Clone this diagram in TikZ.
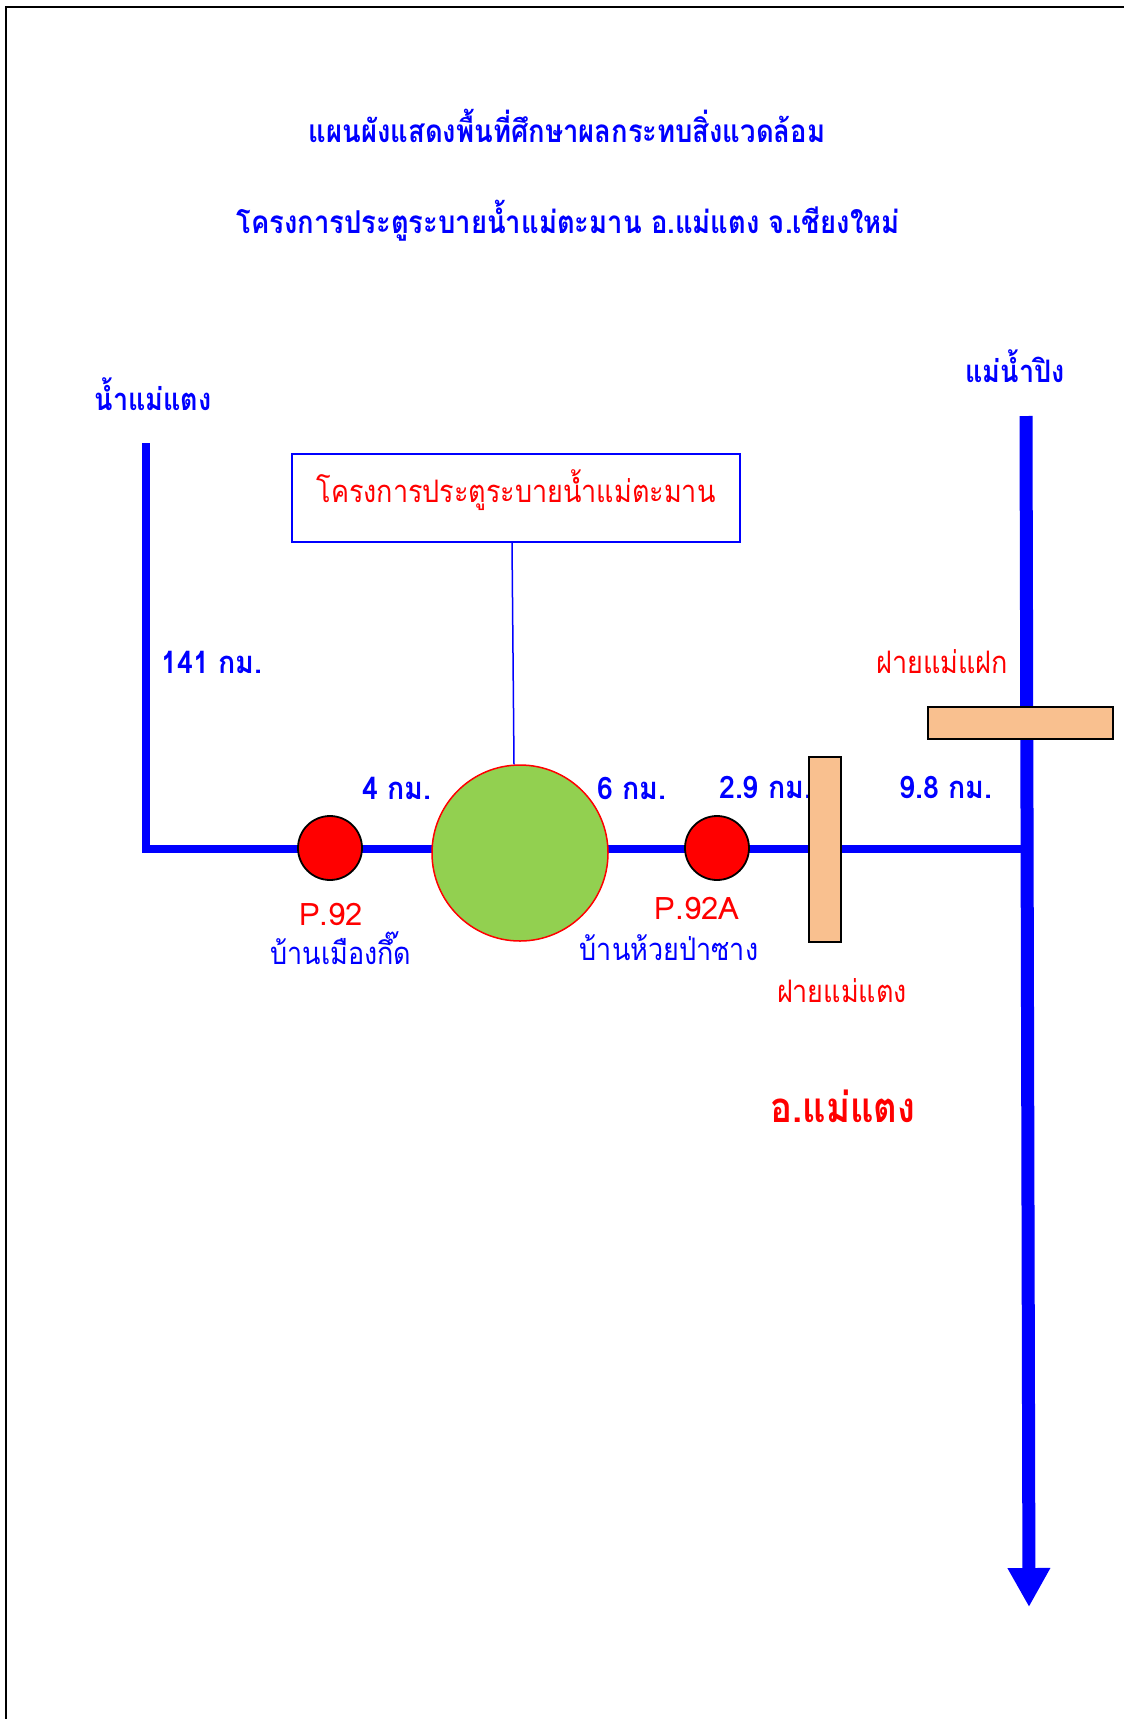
\documentclass[tikz,border=0pt]{standalone}
\usepackage{fontspec}
\newfontfamily\thaifont[Script=Thai, FakeStretch=0.87]{Loma}
\newfontfamily\numfont[Script=Thai, FakeStretch=0.92]{Loma}
\newfontfamily\latinfont[Script=Thai]{Loma}
\usetikzlibrary{arrows.meta,backgrounds}
\definecolor{rvblue}{HTML}{0000FF}
\definecolor{rvred}{HTML}{FF0000}
\definecolor{damgreen}{HTML}{92D050}
\definecolor{weirfill}{HTML}{F9C08F}
\tikzset{
  lbl/.style={font=\thaifont\bfseries\fontsize{31}{36}\selectfont, text=rvblue, inner sep=0pt, anchor=base},
  numlbl/.style={font=\numfont\bfseries\fontsize{31}{36}\selectfont, text=rvblue, inner sep=0pt, anchor=base},
  vlbl/.style={font=\thaifont\fontsize{31}{36}\selectfont, text=rvblue, inner sep=0pt, anchor=base},
  rlbl/.style={font=\thaifont\fontsize{31}{36}\selectfont, text=rvred, inner sep=0pt, anchor=base},
  plbl/.style={font=\latinfont\fontsize{31}{36}\selectfont, text=rvred, inner sep=0pt, anchor=base},
  titletxt/.style={font=\thaifont\bfseries\fontsize{31.5}{36}\selectfont, text=rvblue, inner sep=0pt, anchor=base},
  river/.style={draw=rvblue, line width=8pt},
  mainriver/.style={draw=rvblue, line width=13pt},
  station/.style={circle, draw=black, fill=rvred, line width=1.8pt, minimum size=64pt, inner sep=0pt},
  weir/.style={rectangle, draw=black, fill=weirfill, line width=2pt, inner sep=0pt},
}
\begin{document}
\begin{tikzpicture}[x=1pt,y=-1pt]
\useasboundingbox (0,0) rectangle (1124,1719);
% frame
\coordinate (fbl) at (6,1719);
\coordinate (ftl) at (6,7);
\coordinate (ftr) at (1124,7);
\draw[line width=2.2pt] (fbl) -- (ftl) -- (ftr);
% titles
\node[titletxt] (t1) at (567,142) {แผนผังแสดงพื้นที่ศึกษาผลกระทบสิ่งแวดล้อม};
\node[titletxt] (t2) at (568,233) {โครงการประตูระบายน้ำแม่ตะมาน อ.แม่แตง จ.เชียงใหม่};
% river labels
\node[lbl] (lmt) at (153,410) {น้ำแม่แตง};
\node[lbl] (lping) at (1015,382) {แม่น้ำปิง};
% rivers
\coordinate (ltop) at (146,443);
\coordinate (junc) at (1026,849);
\coordinate (ptop) at (1026,416);
\coordinate (pend) at (1029,1607);
\draw[river] (ltop) |- (junc);
\draw[mainriver, -{Triangle[width=40pt,length=39pt]}] (ptop) -- (pend);
% project box
\node[draw=rvblue, line width=1.5pt, minimum width=448pt, minimum height=88pt, inner sep=0pt] (box) at (516,498) {};
\node[rlbl] (boxt) at (516,502) {โครงการประตูระบายน้ำแม่ตะมาน};
% dam circle
\node[circle, draw=rvred, fill=damgreen, line width=1.5pt, minimum size=176pt, inner sep=0pt] (dam) at (520,853) {};
\draw[draw=rvblue, line width=1.5pt] ([xshift=-4pt]box.south) -- ([xshift=-6pt]dam.north);
% stations
\node[station] (p92) at (330,848) {};
\node[station] (p92a) at (717,848) {};
% distance labels
\node[numlbl] (d141) at (212,673) {141 กม.};
\node[numlbl] (d4) at (397,799) {4 กม.};
\node[numlbl] (d6) at (632,799) {6 กม.};
\node[numlbl, anchor=base west] (d29) at (719,798) {2.9 กม.};
\node[numlbl] (d98) at (946,798) {9.8 กม.};
% weirs
\node[weir, minimum width=32pt, minimum height=185pt] (wtaeng) at (825,849.5) {};
\node[weir, minimum width=185pt, minimum height=32pt] (wfak) at (1020.5,723) {};
\node[rlbl] (lfak) at (942,673) {ฝายแม่แฝก};
\node[rlbl] (ltaeng) at (842,1002) {ฝายแม่แตง};
% station labels
\node[plbl] (n92) at (331,925) {P.92};
\node[vlbl] (v92) at (341,964) {บ้านเมืองกึ๊ด};
\node[plbl] (n92a) at (697,919) {P.92A};
\node[vlbl] (v92a) at (669,960) {บ้านห้วยป่าซาง};
% district
\node[rlbl, font=\thaifont\bfseries\fontsize{42}{48}\selectfont] (dist) at (843,1122) {อ.แม่แตง};
\end{tikzpicture}
\end{document}
